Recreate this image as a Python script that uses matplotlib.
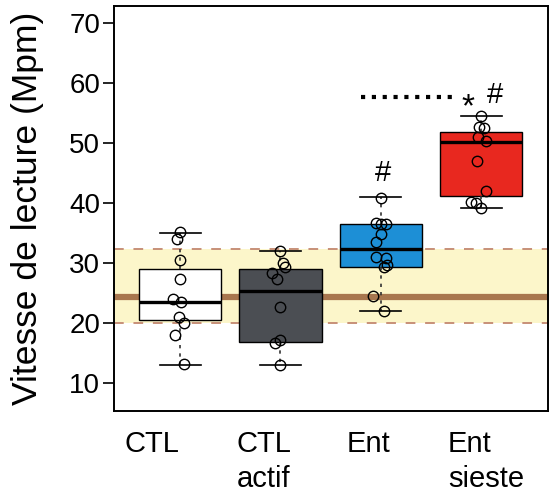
import numpy as np
import matplotlib
matplotlib.use('Agg')
import matplotlib.pyplot as plt

plt.rcParams['font.family'] = ['Liberation Sans', 'DejaVu Sans']

groups = ['CTL', 'CTL\nactif', 'Ent', 'Ent\nsieste']
colors = ['#ffffff', '#4b4e53', '#1d8fd6', '#e8281f']

# box stats: whisker low, q1, median, q3, whisker high
whislo = [13.0, 13.0, 22.0, 39.2]
q1 = [20.5, 16.9, 29.3, 41.1]
med = [23.5, 25.3, 32.3, 50.1]
q3 = [29.0, 29.0, 36.5, 51.8]
whishi = [35.0, 32.0, 41.0, 54.5]

# individual subjects
pts_ctl = [35.1, 34.0, 30.5, 27.3, 24.0, 23.5, 21.0, 20.0, 18.0, 13.2]
pts_actif = [32.0, 30.0, 29.3, 28.3, 27.3, 22.7, 17.2, 16.7, 13.0]
pts_ent = [40.8, 36.6, 36.5, 36.5, 34.8, 33.5, 31.0, 30.8, 29.6, 29.4, 24.5, 22.0]
pts_sieste = [54.5, 52.7, 52.5, 51.0, 50.3, 47.0, 42.0, 40.2, 40.0, 39.2]
jit_ctl = [0.0, -0.03, 0.0, 0.0, -0.07, 0.01, -0.01, 0.04, -0.05, 0.04]
jit_actif = [0.0, 0.03, 0.05, -0.08, -0.03, 0.0, 0.0, -0.05, 0.0]
jit_ent = [0.0, -0.05, 0.0, 0.05, 0.0, -0.05, -0.05, 0.05, 0.06, 0.03, -0.08, 0.03]
jit_sieste = [0.0, -0.02, 0.03, -0.03, 0.05, -0.04, 0.05, -0.1, -0.05, 0.0]

# reference band (mean and range of controls)
band_lo, band_hi, band_mean = 20.0, 32.3, 24.3
sig_y = 57.7

fig = plt.figure(figsize=(5.51, 4.96), dpi=100)
ax = fig.add_axes([0.207, 0.171, 0.788, 0.817])

ax.axhspan(band_lo, band_hi, color='#fcf6ca', zorder=0, lw=0)
ax.axhline(band_lo, color='#c79078', ls=(0, (5, 5)), lw=1.4, zorder=1)
ax.axhline(band_hi, color='#c79078', ls=(0, (5, 5)), lw=1.4, zorder=1)
ax.axhline(band_mean, color='#a8764e', lw=4.5, zorder=1)

pos = np.arange(1, 5)
stats = []
for i in range(4):
    stats.append(dict(whislo=whislo[i], q1=q1[i], med=med[i], q3=q3[i],
                      whishi=whishi[i], fliers=[]))
bp = ax.bxp(stats, positions=pos, widths=0.82, patch_artist=True,
            capwidths=0.41, showfliers=False,
            medianprops=dict(color='black', lw=2.4),
            boxprops=dict(edgecolor='black', lw=1.0),
            whiskerprops=dict(color='#333333', lw=1.2, ls=(0, (2, 3))),
            capprops=dict(color='black', lw=1.2))
for patch, c in zip(bp['boxes'], colors):
    patch.set_facecolor(c)
    patch.set_zorder(2)

all_pts = [pts_ctl, pts_actif, pts_ent, pts_sieste]
all_jit = [jit_ctl, jit_actif, jit_ent, jit_sieste]
for p, vals, jit in zip(pos, all_pts, all_jit):
    ax.plot(p + np.array(jit), vals, 'o', mfc='none', mec='black', mew=1.0,
            ms=7.5, zorder=4)

ax.plot([2.8, 3.76], [sig_y, sig_y], color='black', ls=(0, (1, 1.6)), lw=3, zorder=3)
ax.text(3.87, sig_y - 1.8, '*', fontsize=24, ha='center', va='center')
ax.text(4.14, sig_y + 0.3, '#', fontsize=21, ha='center', va='center')
ax.text(3.02, 45.0, '#', fontsize=21, ha='center', va='center')

ax.set_xlim(0.342, 4.669)
ax.set_ylim(5.33, 72.83)
ax.set_yticks([10, 20, 30, 40, 50, 60, 70])
ax.tick_params(axis='y', labelsize=20, length=8, width=1.2, pad=2)
ax.set_xticks([])
for s in ax.spines.values():
    s.set_linewidth(1.4)
ax.set_ylabel('Vitesse de lecture (Mpm)', fontsize=25.5, labelpad=18)

# category labels, placed as in the source figure
lab_x = [125, 237, 347, 448]
for lx, g in zip(lab_x, groups):
    fig.text(lx / 551, 1 - 430 / 496, g, fontsize=21, ha='left', va='top',
             linespacing=1.3)

fig.savefig('out.png', dpi=100)
